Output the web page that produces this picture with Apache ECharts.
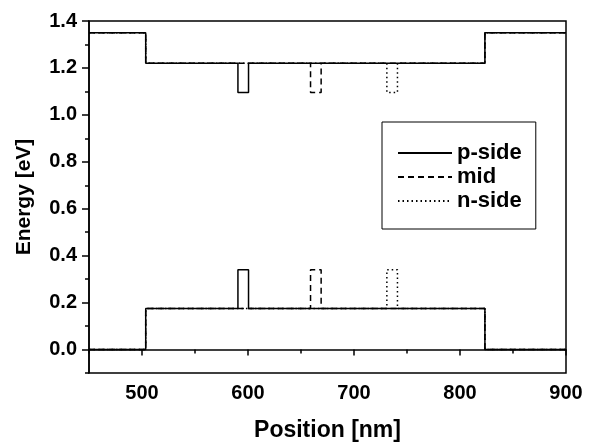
<!DOCTYPE html>
<html>
<head>
<meta charset="utf-8">
<script src="https://cdn.jsdelivr.net/npm/echarts@6/dist/echarts.min.js"></script>
<style>
  html, body { margin: 0; padding: 0; background: #fff; }
  #chart { width: 591px; height: 447px; }
</style>
</head>
<body>
<div id="chart"></div>
<script>
// band profile
const seriesNames = ['p-side', 'mid', 'n-side'];
const seriesDash = ['solid', [6, 4], [1.5, 3]];
const barrierEdges = [503.5, 823.5];     // nm
const wellLeft = [590.5, 659, 731];      // nm, one per series
const wellRight = [600.5, 669, 741];
const cbLevels = [1.35, 1.22, 1.095];    // barrier, matrix, well (eV)
const vbLevels = [0, 0.175, 0.34];       // barrier, matrix, well (eV)

const xMajor = [500, 600, 700, 800, 900];
const xMinor = [450, 550, 650, 750, 850];
const yMajor = [0, 0.2, 0.4, 0.6, 0.8, 1.0, 1.2, 1.4];
const yMinor = [-0.1, 0.1, 0.3, 0.5, 0.7, 0.9, 1.1, 1.3];

function profile(levels, i) {
  const [bar, mat, well] = levels;
  return [
    [450, bar], [barrierEdges[0], bar], [barrierEdges[0], mat],
    [wellLeft[i], mat], [wellLeft[i], well], [wellRight[i], well], [wellRight[i], mat],
    [barrierEdges[1], mat], [barrierEdges[1], bar], [900, bar]
  ];
}

const chart = echarts.init(document.getElementById('chart'));

const series = [];
seriesNames.forEach(function (name, i) {
  [cbLevels, vbLevels].forEach(function (lv) {
    series.push({
      name: name,
      type: 'line',
      data: profile(lv, i),
      symbol: 'none',
      silent: true,
      z: 10 - i,
      itemStyle: { color: '#000' },
      lineStyle: { color: '#000', width: 1.5, type: seriesDash[i] }
    });
  });
});

const font = 'Liberation Sans, Arial, sans-serif';

const option = {
  animation: false,
  grid: {
    left: 89, right: 25, top: 21, bottom: 72,
    show: true, borderColor: '#000', borderWidth: 1.5,
    backgroundColor: 'transparent'
  },
  legend: {
    data: seriesNames,
    orient: 'vertical',
    left: 382, top: 122,
    padding: [20, 14, 17, 15],
    itemGap: 2,
    itemWidth: 54,
    itemHeight: 14,
    borderColor: '#000',
    borderWidth: 1,
    itemStyle: { opacity: 0 },
    textStyle: { fontFamily: font, fontWeight: 'bold', fontSize: 22, color: '#000' }
  },
  xAxis: [{
    type: 'value', min: 450, max: 900,
    name: 'Position [nm]', nameLocation: 'middle', nameGap: 46,
    nameTextStyle: { fontFamily: font, fontWeight: 'bold', fontSize: 23, color: '#000' },
    splitLine: { show: false },
    axisLine: { lineStyle: { color: '#000', width: 1.5 } },
    axisTick: { customValues: xMajor, length: 6, lineStyle: { color: '#000', width: 1.5 } },
    axisLabel: {
      customValues: xMajor, margin: 10,
      fontFamily: font, fontWeight: 'bold', fontSize: 20, color: '#000'
    }
  }, {
    type: 'value', min: 450, max: 900, position: 'bottom',
    splitLine: { show: false },
    axisLine: { show: false },
    axisLabel: { show: false },
    axisTick: { customValues: xMinor, length: 4, lineStyle: { color: '#000', width: 1.5 } }
  }],
  yAxis: [{
    type: 'value', min: -0.1, max: 1.4,
    name: 'Energy [eV]', nameLocation: 'middle', nameGap: 54,
    nameTextStyle: { fontFamily: font, fontWeight: 'bold', fontSize: 21, color: '#000' },
    splitLine: { show: false },
    axisLine: { lineStyle: { color: '#000', width: 1.5 } },
    axisTick: { customValues: yMajor, length: 7, lineStyle: { color: '#000', width: 1.5 } },
    axisLabel: {
      customValues: yMajor, margin: 12,
      formatter: function (v) { return v.toFixed(1); },
      fontFamily: font, fontWeight: 'bold', fontSize: 20, color: '#000'
    }
  }, {
    type: 'value', min: -0.1, max: 1.4, position: 'left',
    splitLine: { show: false },
    axisLine: { show: false },
    axisLabel: { show: false },
    axisTick: { customValues: yMinor, length: 4, lineStyle: { color: '#000', width: 1.5 } }
  }],
  series: series
};

chart.setOption(option);
</script>
</body>
</html>
